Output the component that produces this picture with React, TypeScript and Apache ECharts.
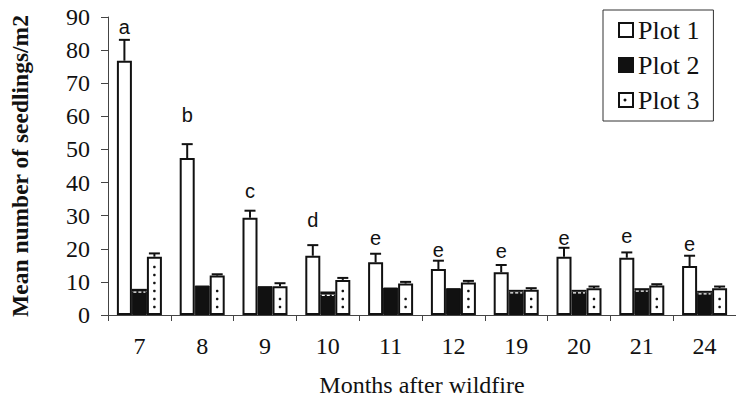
import React, { useEffect, useRef } from "react";
import * as echarts from "echarts";

const categories = ["7", "8", "9", "10", "11", "12", "19", "20", "21", "24"];
const plot1 = [76.8, 47.4, 29.4, 17.9, 15.9, 13.9, 12.9, 17.6, 17.3, 14.8];
const plot1Err = [6.3, 4.2, 2.1, 3.2, 2.6, 2.5, 2.2, 2.7, 1.6, 3.1];
const plot2 = [7.2, 8.9, 8.7, 6.2, 8.3, 8.1, 7.0, 7.0, 7.5, 6.7];
const plot2Err = [0.7, 0, 0, 0.9, 0, 0, 0.6, 0.6, 0.6, 0.6];
const plot3 = [17.6, 11.9, 8.7, 10.6, 9.5, 9.8, 7.6, 8.1, 8.9, 8.1];
const plot3Err = [1.0, 0.4, 0.9, 0.6, 0.5, 0.5, 0.5, 0.5, 0.4, 0.5];
const letters = ["a", "b", "c", "d", "e", "e", "e", "e", "e", "e"];
const letterY = [87, 60.3, 37.5, 28.8, 23.4, 19.6, 19.2, 23.4, 24, 21.3];
const seriesNames = ["Plot 1", "Plot 2", "Plot 3"];

const INK = "#111";
const SERIF = "Liberation Serif";
const SANS = "Liberation Sans";
const BAR = 15;
const CAP = 11;

export default function App() {
  const ref = useRef<HTMLDivElement>(null);

  useEffect(() => {
    if (!ref.current) return;
    const chart = echarts.init(ref.current, undefined, { renderer: "svg" });

    const renderItem = (params: any, api: any) => {
      const i = api.value(0);
      const children: any[] = [];
      const base = api.coord([i, 0]);
      const cx = base[0];
      const y0 = base[1];
      const means = [plot1[i], plot2[i], plot3[i]];
      const errs = [plot1Err[i], plot2Err[i], plot3Err[i]];
      const offs = [-BAR, 0, BAR];
      for (let k = 0; k < 3; k++) {
        const x = cx + offs[k];
        const ym = api.coord([i, means[k]])[1];
        const yt = api.coord([i, means[k] + errs[k]])[1];
        if (k === 1) {
          if (errs[k] > 0) {
            children.push({
              type: "rect",
              shape: { x: x - BAR / 2, y: yt, width: BAR, height: ym - yt },
              style: { fill: INK },
            });
            children.push({
              type: "line",
              shape: { x1: x - 6, y1: ym + 1, x2: x + 6, y2: ym + 1 },
              style: { stroke: "#fff", lineWidth: 1.2, lineDash: [3, 2] },
            });
          }
          continue;
        }
        if (k === 2) {
          for (let y = y0 - 8; y >= ym + 8; y -= 8) {
            children.push({
              type: "circle",
              shape: { cx: x, cy: y, r: 1.3 },
              style: { fill: INK },
            });
          }
        }
        children.push({
          type: "line",
          shape: { x1: x, y1: ym, x2: x, y2: yt },
          style: { stroke: INK, lineWidth: 2 },
        });
        children.push({
          type: "line",
          shape: { x1: x - CAP / 2, y1: yt, x2: x + CAP / 2, y2: yt },
          style: { stroke: INK, lineWidth: 2 },
        });
      }
      const ly = api.coord([i, letterY[i]])[1];
      children.push({
        type: "text",
        x: cx - BAR,
        y: ly,
        style: {
          text: letters[i],
          fill: INK,
          fontFamily: SANS,
          fontSize: 20,
          align: "center",
          verticalAlign: "middle",
        },
      });
      return { type: "group", children };
    };

    chart.setOption({
      animation: false,
      backgroundColor: "#fff",
      textStyle: { fontFamily: SERIF, color: INK },
      grid: { left: 98, right: -4, top: 17, bottom: 85, containLabel: false },
      legend: {
        data: seriesNames,
        orient: "vertical",
        left: 603,
        top: 10,
        padding: [7, 14, 8, 15],
        itemGap: 9,
        itemWidth: 14,
        itemHeight: 14,
        icon: "rect",
        borderColor: "#333",
        borderWidth: 1,
        textStyle: { fontFamily: SERIF, fontSize: 26, color: INK, lineHeight: 26 },
      },
      xAxis: {
        type: "category",
        data: categories,
        name: "Months after wildfire",
        nameLocation: "middle",
        nameGap: 58,
        nameTextStyle: { fontFamily: SERIF, fontSize: 24, color: INK },
        axisLine: { lineStyle: { color: "#444", width: 1 } },
        axisTick: { show: true, length: 6, lineStyle: { color: "#444" } },
        axisLabel: { fontFamily: SERIF, fontSize: 24, color: INK, margin: 19 },
      },
      yAxis: {
        type: "value",
        min: 0,
        max: 90,
        interval: 10,
        name: "Mean number of seedlings/m2",
        nameLocation: "middle",
        nameGap: 76,
        nameTextStyle: { fontFamily: SERIF, fontSize: 23.5, fontWeight: "bold", color: INK },
        axisLine: { show: true, lineStyle: { color: "#444", width: 1 } },
        axisTick: { show: true, length: 7, lineStyle: { color: "#444" } },
        axisLabel: { fontFamily: SERIF, fontSize: 24, color: INK, margin: 18 },
        splitLine: { show: false },
      },
      series: [
        {
          name: seriesNames[0],
          type: "bar",
          data: plot1,
          barWidth: BAR,
          barGap: "0%",
          itemStyle: { color: "#fff", borderColor: INK, borderWidth: 2 },
        },
        {
          name: seriesNames[1],
          type: "bar",
          data: plot2,
          barWidth: BAR,
          barGap: "0%",
          itemStyle: { color: INK, borderColor: INK, borderWidth: 1 },
        },
        {
          name: seriesNames[2],
          type: "bar",
          data: plot3,
          barWidth: BAR,
          barGap: "0%",
          itemStyle: { color: "#fff", borderColor: INK, borderWidth: 2 },
        },
        {
          type: "custom",
          renderItem,
          data: categories.map((_, i) => [i, plot1[i] + plot1Err[i]]),
          encode: { x: 0, y: 1 },
          z: 5,
          silent: true,
        },
      ],
      graphic: [
        {
          type: "circle",
          shape: { cx: 625, cy: 100, r: 1.5 },
          style: { fill: INK },
          z: 100,
        },
      ],
    });

    return () => chart.dispose();
  }, []);

  return (
    <div
      ref={ref}
      style={{ position: "absolute", left: 0, top: 0, width: 736, height: 402 }}
    />
  );
}
